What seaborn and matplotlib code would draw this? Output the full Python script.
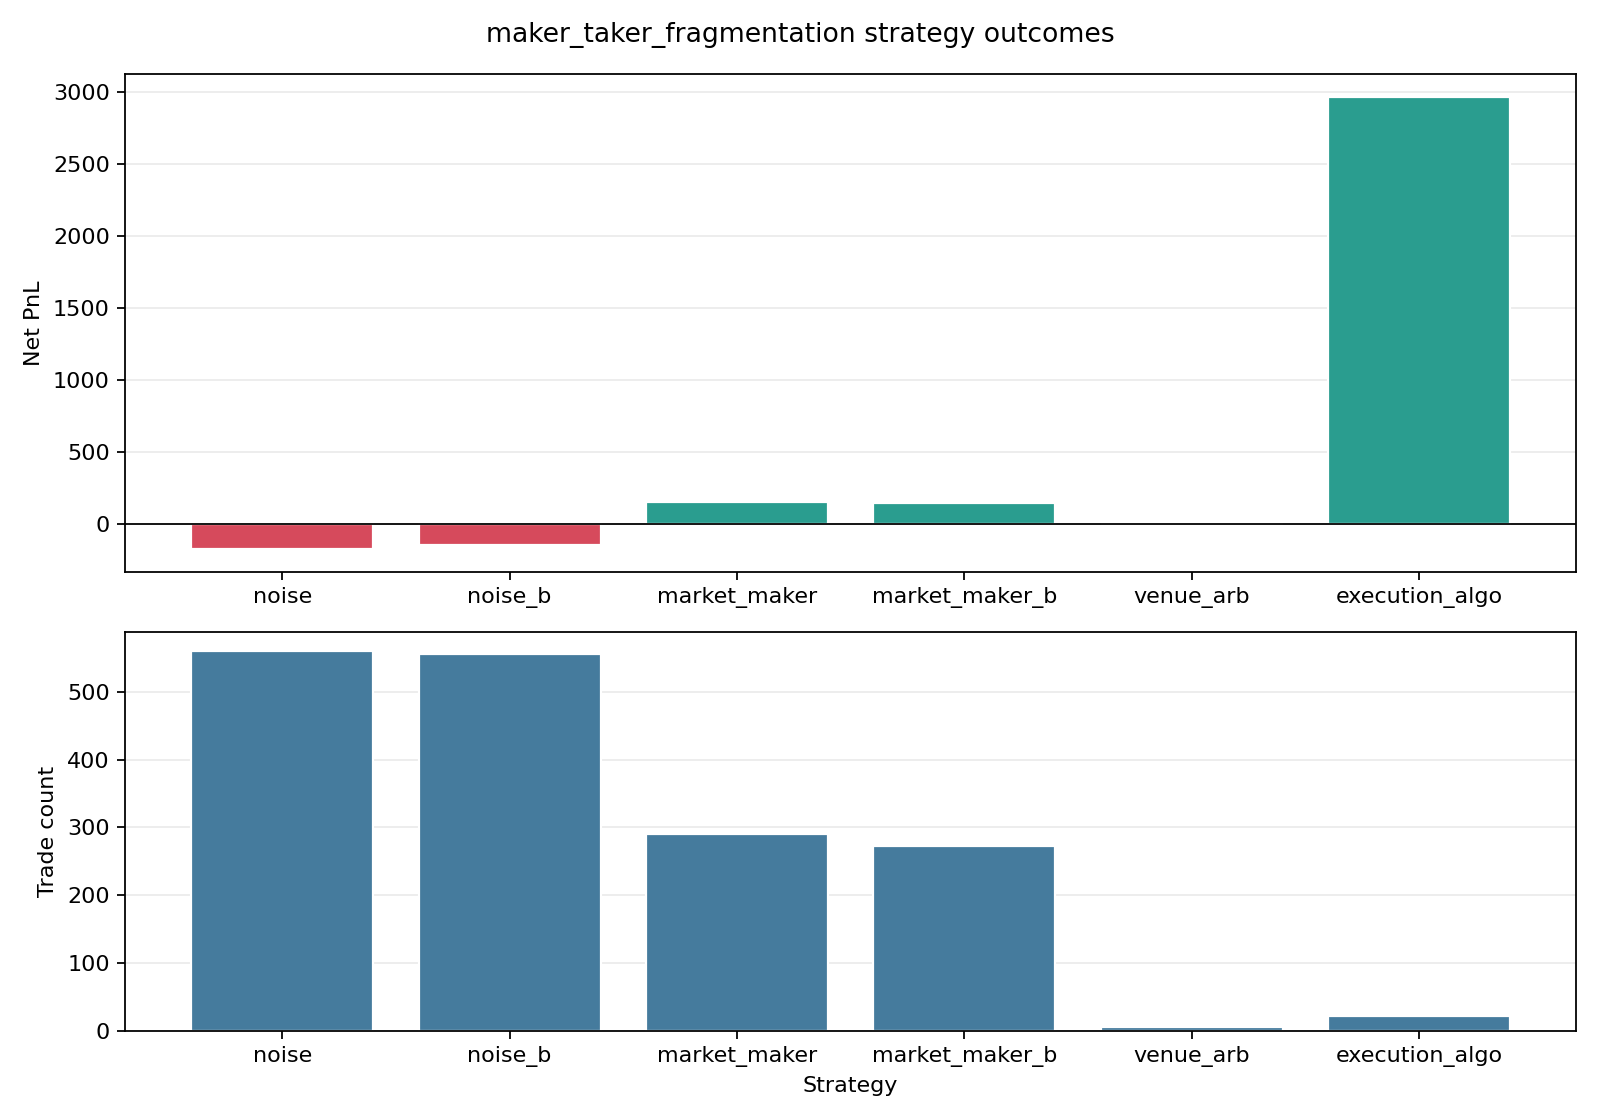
import matplotlib
matplotlib.use("Agg")
import matplotlib.pyplot as plt
import seaborn as sns
import pandas as pd

# strategy outcomes
strategies = ["noise", "noise_b", "market_maker", "market_maker_b", "venue_arb", "execution_algo"]
net_pnl = [-171, -143, 153, 152, 0, 2965]
trade_count = [560, 556, 290, 273, 5, 21]

df = pd.DataFrame({"strategy": strategies, "pnl": net_pnl, "trades": trade_count})
df["sign"] = ["neg" if v < 0 else "pos" for v in df["pnl"]]

sns.set_style("ticks", {"axes.edgecolor": "black", "text.color": "black",
                        "axes.labelcolor": "black", "xtick.color": "black",
                        "ytick.color": "black"})
plt.rcParams["font.family"] = ["DejaVu Sans"]

fig, (ax1, ax2) = plt.subplots(2, 1, figsize=(10, 7), dpi=160,
                               gridspec_kw={"height_ratios": [5, 4]})

sns.barplot(data=df, x="strategy", y="pnl", hue="sign",
            palette={"neg": "#d64a5c", "pos": "#2a9d8f"},
            order=strategies, dodge=False, legend=False, saturation=1,
            width=0.8, ax=ax1, zorder=2)
ax1.axhline(0, color="black", lw=0.8, zorder=3)
ax1.set_ylabel("Net PnL", fontsize=10)
ax1.set_xlabel("")

sns.barplot(data=df, x="strategy", y="trades", color="#457b9d",
            order=strategies, saturation=1, width=0.8, ax=ax2, zorder=2)
ax2.set_ylabel("Trade count", fontsize=10)
ax2.set_xlabel("Strategy", fontsize=10)

for ax in (ax1, ax2):
    # plain matplotlib x padding instead of seaborn's tight category limits
    ax.autoscale(enable=True, axis="x")
    ax.margins(x=0.05)
    ax.grid(axis="y", color="#ebebeb", lw=0.8, zorder=0)
    ax.set_axisbelow(True)
    ax.tick_params(labelsize=10, length=3.5, width=0.8)
    for s in ax.spines.values():
        s.set_color("black")
        s.set_linewidth(0.8)

fig.suptitle("maker_taker_fragmentation strategy outcomes", fontsize=12)
fig.tight_layout()
fig.savefig("out.png")
